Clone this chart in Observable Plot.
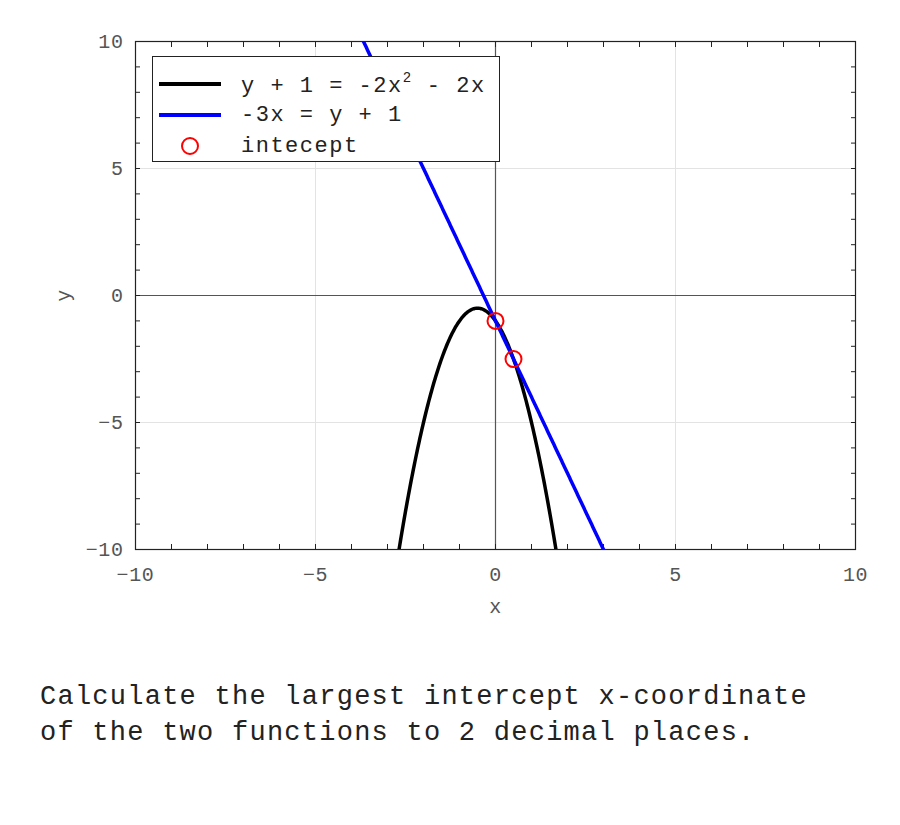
<!DOCTYPE html>
<html>
<head>
<meta charset="utf-8">
<script src="https://cdn.jsdelivr.net/npm/d3@7"></script>
<script src="https://cdn.jsdelivr.net/npm/@observablehq/plot@0.6"></script>
<style>
  body { margin: 0; background: #fff; }
  #wrap { position: relative; width: 900px; }
  #legend { position: absolute; left: 152px; top: 56px; width: 346px; height: 104px;
    border: 1px solid #222; background: #fff; font-family: "Liberation Mono", monospace; font-size: 22px; letter-spacing: 1.5px; color: #222; }
  .row { position: absolute; left: 0; height: 30px; display: flex; align-items: center; }
  .row svg { margin-left: 6px; }
  .row span { position: absolute; left: 88px; white-space: nowrap; }
  #caption { font-family: "Liberation Mono", monospace; font-size: 27px; letter-spacing: 1.25px; color: #222; padding: 54px 0 0 40px; line-height: 36px; }
</style>
</head>
<body>
<div id="wrap">
  <div id="chart"></div>
  <div id="legend">
    <div class="row" style="top:12px"><svg width="62" height="10"><line x1="0" y1="5" x2="62" y2="5" stroke="#000" stroke-width="4"/></svg><span>y + 1 = -2x<sup style="font-size:14px;vertical-align:10px;letter-spacing:1px">2</sup> - 2x</span></div>
    <div class="row" style="top:43px"><svg width="62" height="10"><line x1="0" y1="5" x2="62" y2="5" stroke="#0000ff" stroke-width="4"/></svg><span>-3x = y + 1</span></div>
    <div class="row" style="top:74px"><svg width="62" height="22"><circle cx="31" cy="11" r="8" fill="none" stroke="#ff0000" stroke-width="2"/></svg><span>intecept</span></div>
  </div>
  <div id="caption">Calculate the largest intercept x-coordinate<br>of the two functions to 2 decimal places.</div>
</div>
<script>
// Function definitions: y = a*x^2 + b*x + c
const parabolaCoef = [-2, -2, -1];
const lineCoef = [0, -3, -1];
const interceptX = [0, 0.5];
const interceptY = [-1, -2.5];
const majorTicks = [-10, -5, 0, 5, 10];
const minorTicks = d3.range(-10, 11, 1);
const sampleX = d3.range(-4, 3.5001, 0.02);

const f = (c, x) => c[0] * x * x + c[1] * x + c[2];
const parabola = sampleX.map(x => ({x, y: f(parabolaCoef, x)}));
const line = sampleX.map(x => ({x, y: f(lineCoef, x)}));
const pts = interceptX.map((x, i) => ({x, y: interceptY[i]}));
const fmt = d => (d < 0 ? "\u2212" : "") + Math.abs(d);

const plot = Plot.plot({
  width: 900,
  height: 625,
  marginLeft: 135,
  marginRight: 45,
  marginTop: 41,
  marginBottom: 76,
  style: { fontFamily: "Liberation Mono, monospace", fontSize: "20px", color: "#555", background: "#fff", letterSpacing: "0.6px" },
  x: { domain: [-10, 10] },
  y: { domain: [-10, 10] },
  marks: [
    Plot.ruleX([-5, 5], { stroke: "#e3e3e3", strokeWidth: 1 }),
    Plot.ruleY([-5, 5], { stroke: "#e3e3e3", strokeWidth: 1 }),
    Plot.ruleX([0], { stroke: "#555", strokeWidth: 1.2 }),
    Plot.ruleY([0], { stroke: "#555", strokeWidth: 1.2 }),
    Plot.axisX({ ticks: minorTicks, tickSize: -5, text: null, label: null, stroke: "#222" }),
    Plot.axisX({ ticks: minorTicks, anchor: "top", tickSize: -5, text: null, label: null, stroke: "#222" }),
    Plot.axisY({ ticks: minorTicks, tickSize: -5, text: null, label: null, stroke: "#222" }),
    Plot.axisY({ ticks: minorTicks, anchor: "right", tickSize: -5, text: null, label: null, stroke: "#222" }),
    Plot.axisX({ ticks: majorTicks, tickSize: 0, tickPadding: 17, fill: "#555", tickFormat: fmt, label: "x", labelAnchor: "center", labelArrow: "none", labelOffset: 63, fontSize: 20 }),
    Plot.axisY({ ticks: majorTicks, tickSize: 0, tickPadding: 12, fill: "#555", tickFormat: fmt, label: "y", labelAnchor: "center", labelArrow: "none", labelOffset: 80, fontSize: 20 }),
    Plot.frame({ stroke: "#222", strokeWidth: 1.2 }),
    Plot.line(parabola, { x: "x", y: "y", stroke: "#000", strokeWidth: 3.5, clip: true }),
    Plot.line(line, { x: "x", y: "y", stroke: "#0000ff", strokeWidth: 3.5, clip: true }),
    Plot.dot(pts, { x: "x", y: "y", r: 8, stroke: "#ff0000", strokeWidth: 2, fill: "none" })
  ]
});
document.getElementById("chart").appendChild(plot);
</script>
</body>
</html>
